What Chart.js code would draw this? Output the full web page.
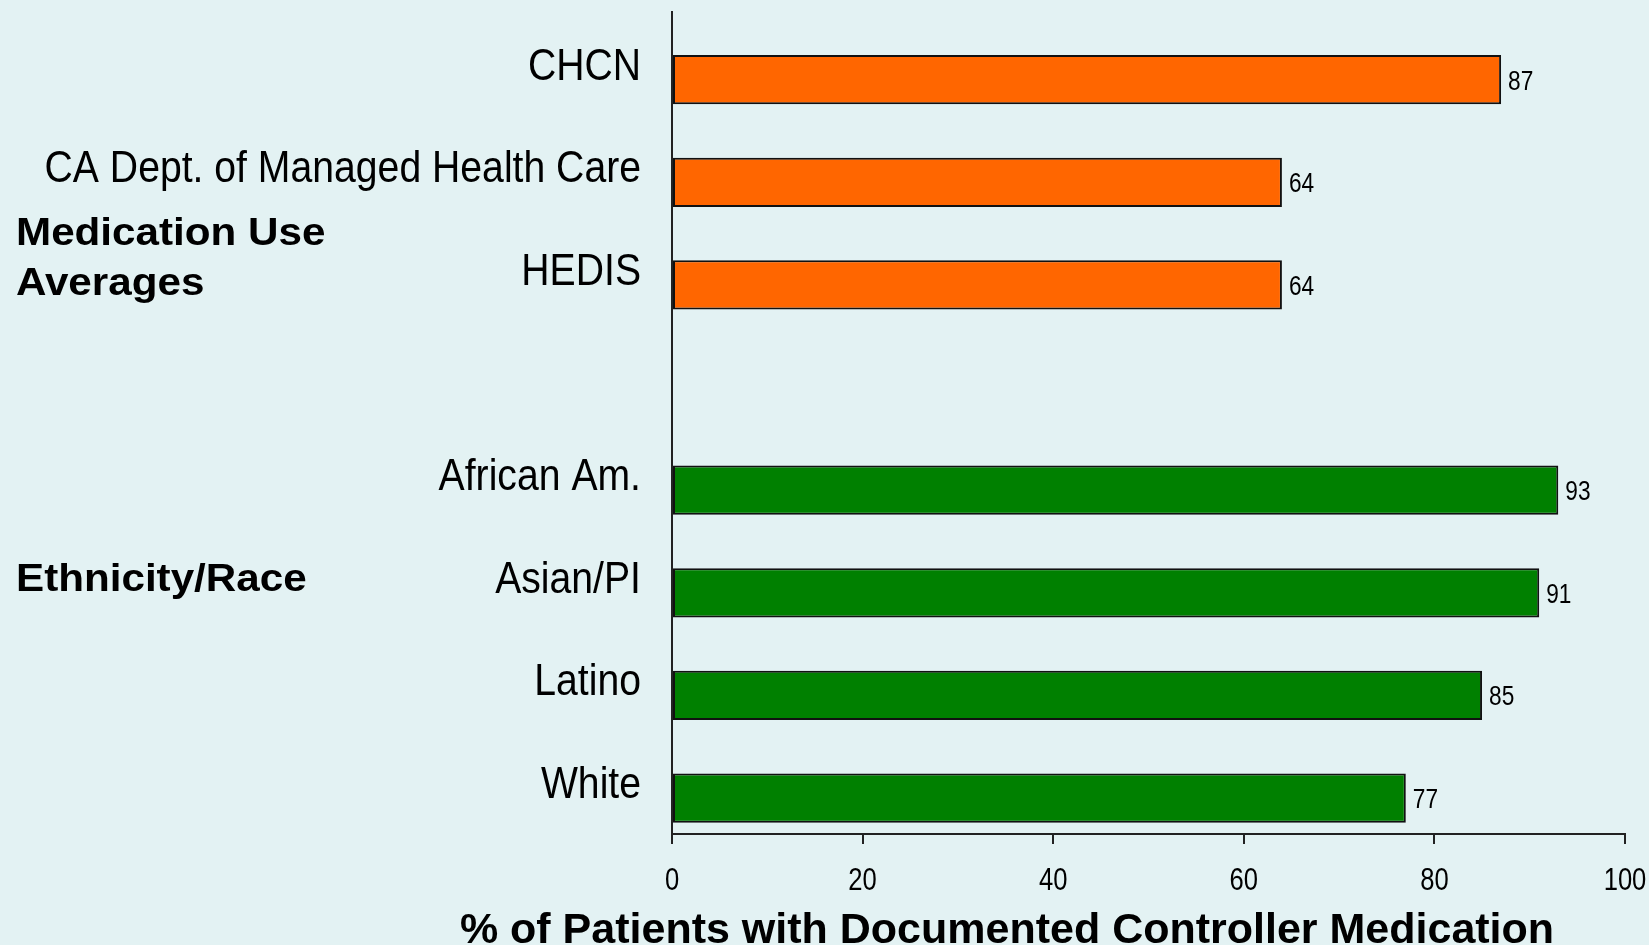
<!DOCTYPE html>
<html>
<head>
<meta charset="utf-8">
<script src="https://cdn.jsdelivr.net/npm/chart.js@4/dist/chart.umd.min.js"></script>
<style>
  html, body { margin: 0; padding: 0; background: #e3f2f3; }
  #wrap { width: 1649px; height: 945px; position: relative; }
</style>
</head>
<body>
<div id="wrap"><canvas id="chart"></canvas></div>
<script>
// Medication use averages
const avgLabels = ['CHCN', 'CA Dept. of Managed Health Care', 'HEDIS'];
const avgValues = [87, 64, 64];

// Ethnicity / race
const ethLabels = ['African Am.', 'Asian/PI', 'Latino', 'White'];
const ethValues = [93, 91, 85, 77];

const xTicks = [0, 20, 40, 60, 80, 100];
const axisTitle = '% of Patients with Documented Controller Medication';

const ORANGE = '#ff6600';
const GREEN = '#008000';
const SANS = "'Liberation Sans', Arial, Helvetica, sans-serif";

// one empty slot between the two groups
const labels = [...avgLabels, '', ...ethLabels];
const points = [];
const colors = [];
avgValues.forEach((v, i) => { points.push({ x: v, y: i }); colors.push(ORANGE); });
ethValues.forEach((v, i) => { points.push({ x: v, y: avgLabels.length + 1 + i }); colors.push(GREEN); });

// group headings, placed on the category axis
const groupHeads = [
  { lines: ['Medication Use', 'Averages'], at: 1.606, step: 0.488 },
  { lines: ['Ethnicity/Race'], at: 4.978, step: 0 }
];

// the source text is squeezed / stretched sideways, so draw it with a scale
function squeezed(ctx, text, x, y, sx, align) {
  ctx.save();
  ctx.translate(x, y);
  ctx.scale(sx, 1);
  ctx.textAlign = align;
  ctx.fillText(text, 0, 0);
  ctx.restore();
}

const extraText = {
  id: 'extraText',
  afterDraw(chart) {
    const ctx = chart.ctx;
    const xScale = chart.scales.x;
    const yScale = chart.scales.y;
    const area = chart.chartArea;
    ctx.save();
    ctx.fillStyle = '#000';
    ctx.textBaseline = 'alphabetic';

    // category labels
    ctx.font = '44px ' + SANS;
    labels.forEach((l, i) => {
      if (l) squeezed(ctx, l, area.left - 31, yScale.getPixelForValue(i), 0.89, 'right');
    });

    // value labels
    ctx.font = '27px ' + SANS;
    chart.getDatasetMeta(0).data.forEach((bar, i) => {
      squeezed(ctx, String(points[i].x), bar.x + 7, bar.y + 10, 0.84, 'left');
    });

    // x tick labels
    ctx.font = '32px ' + SANS;
    xTicks.forEach(v => {
      squeezed(ctx, String(v), xScale.getPixelForValue(v), area.bottom + 56, 0.8, 'center');
    });

    // group headings
    ctx.font = 'bold 38px ' + SANS;
    groupHeads.forEach(g => {
      g.lines.forEach((t, k) => {
        squeezed(ctx, t, 16, yScale.getPixelForValue(g.at + k * g.step), 1.11, 'left');
      });
    });

    // axis title
    ctx.font = 'bold 43px ' + SANS;
    ctx.textAlign = 'center';
    ctx.fillText(axisTitle, 1007, 943);
    ctx.restore();
  }
};

new Chart(document.getElementById('chart').getContext('2d'), {
  type: 'bar',
  data: {
    datasets: [{
      data: points,
      backgroundColor: colors,
      borderColor: '#111',
      borderWidth: 2,
      borderSkipped: false,
      categoryPercentage: 1,
      barPercentage: 0.48
    }]
  },
  options: {
    indexAxis: 'y',
    responsive: true,
    maintainAspectRatio: false,
    animation: false,
    layout: { padding: { top: 12, right: 24, bottom: 0, left: 0 } },
    plugins: {
      legend: { display: false },
      tooltip: { enabled: false }
    },
    scales: {
      x: {
        type: 'linear',
        min: 0,
        max: 100,
        afterBuildTicks: axis => { axis.ticks = xTicks.map(v => ({ value: v })); },
        ticks: { display: false },
        grid: { drawOnChartArea: false, drawTicks: true, tickLength: 10, color: '#222', lineWidth: 2 },
        border: { display: true, color: '#222', width: 2 },
        afterFit: axis => {
          axis.height = 111;
          axis.paddingLeft = 0; axis.paddingRight = 0;
          axis.paddingTop = 0; axis.paddingBottom = 0;
        }
      },
      y: {
        type: 'linear',
        reverse: true,
        offset: false,
        min: -0.66,
        max: 7.35,
        afterBuildTicks: axis => { axis.ticks = labels.map((l, i) => ({ value: i })); },
        ticks: { display: false },
        grid: { offset: false, drawOnChartArea: false, drawTicks: false },
        border: { display: true, color: '#222', width: 2 },
        afterFit: axis => {
          axis.width = 672;
          axis.paddingLeft = 0; axis.paddingRight = 0;
          axis.paddingTop = 0; axis.paddingBottom = 0;
        }
      }
    }
  },
  plugins: [extraText]
});
</script>
</body>
</html>
